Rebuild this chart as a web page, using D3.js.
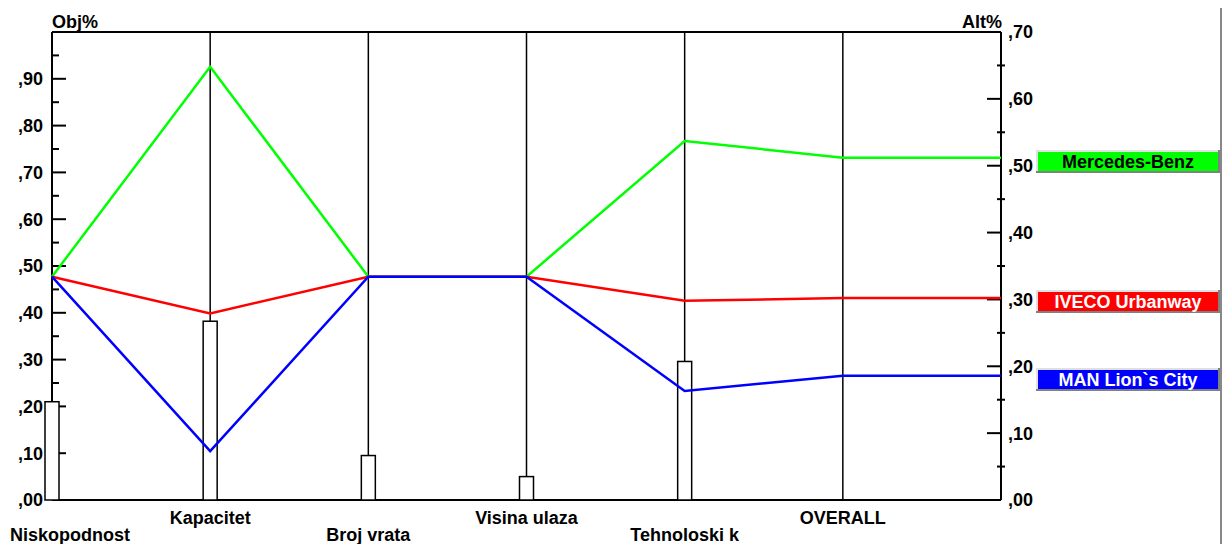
<!DOCTYPE html>
<html>
<head>
<meta charset="utf-8">
<script src="https://cdn.jsdelivr.net/npm/d3@7"></script>
<style>
  body { margin: 0; background: #fff; }
  svg text { font-family: "Liberation Sans", Arial, sans-serif; font-weight: bold; font-size: 18px; fill: #000; }
</style>
</head>
<body>
<svg id="chart" width="1224" height="544"></svg>
<script>
// criteria along the x axis (last one is the total)
const criteria = ["Niskopodnost", "Kapacitet", "Broj vrata", "Visina ulaza", "Tehnoloski k", "OVERALL"];
// criterion weights, read on the left (Obj%) axis
const weights = [0.21, 0.382, 0.095, 0.05, 0.296];
// alternative scores per criterion, read on the right (Alt%) axis
const mercedes = [0.334, 0.648, 0.334, 0.334, 0.537, 0.512];
const iveco    = [0.334, 0.279, 0.334, 0.334, 0.298, 0.302];
const man      = [0.334, 0.073, 0.334, 0.334, 0.163, 0.186];
const seriesNames = ["Mercedes-Benz", "IVECO Urbanway", "MAN Lion`s City"];
const seriesColors = ["#00ff00", "#ff0000", "#0000ff"];
const seriesText = ["#000", "#fff", "#fff"];
const leftTicks = [0, 0.1, 0.2, 0.3, 0.4, 0.5, 0.6, 0.7, 0.8, 0.9];
const rightTicks = [0, 0.1, 0.2, 0.3, 0.4, 0.5, 0.6, 0.7];

const svg = d3.select("#chart");
const pLeft = 52, pRight = 1001, pTop = 32, pBottom = 500;

const x = d3.scaleLinear().domain([0, criteria.length]).range([pLeft, pRight]);
const yL = d3.scaleLinear().domain([0, 1]).range([pBottom, pTop]);
const yR = d3.scaleLinear().domain([0, 0.7]).range([pBottom, pTop]);

const fmt = v => "," + d3.format("02d")(Math.round(v * 100));

// frame: top line, bottom line
svg.append("line").attr("x1", pLeft).attr("x2", pRight).attr("y1", pTop).attr("y2", pTop)
  .attr("stroke", "#000").attr("stroke-width", 2);
svg.append("line").attr("x1", pLeft).attr("x2", pRight).attr("y1", pBottom).attr("y2", pBottom)
  .attr("stroke", "#000").attr("stroke-width", 2);

// vertical criterion lines
svg.selectAll(".crit").data(criteria.slice(1)).enter().append("line")
  .attr("x1", (d, i) => x(i + 1)).attr("x2", (d, i) => x(i + 1))
  .attr("y1", pTop).attr("y2", pBottom)
  .attr("stroke", "#000").attr("stroke-width", 1.5);

// left axis
const lAxis = svg.append("g");
lAxis.append("line").attr("x1", pLeft).attr("x2", pLeft).attr("y1", pTop).attr("y2", pBottom)
  .attr("stroke", "#000").attr("stroke-width", 2);
lAxis.selectAll(".maj").data(leftTicks).enter().append("line")
  .attr("x1", pLeft).attr("x2", pLeft + 14).attr("y1", d => yL(d)).attr("y2", d => yL(d))
  .attr("stroke", "#000").attr("stroke-width", 2);
lAxis.selectAll(".min").data(leftTicks.map(d => d + 0.05)).enter().append("line")
  .attr("x1", pLeft).attr("x2", pLeft + 7).attr("y1", d => yL(d)).attr("y2", d => yL(d))
  .attr("stroke", "#000").attr("stroke-width", 2);
lAxis.selectAll("text").data(leftTicks).enter().append("text")
  .attr("x", 43).attr("y", d => yL(d)).attr("dy", "0.36em")
  .attr("text-anchor", "end").text(fmt);
svg.append("text").attr("x", 52).attr("y", 28).text("Obj%");

// right axis
const rAxis = svg.append("g");
rAxis.append("line").attr("x1", pRight).attr("x2", pRight).attr("y1", pTop).attr("y2", pBottom)
  .attr("stroke", "#000").attr("stroke-width", 2);
rAxis.selectAll(".maj").data(rightTicks).enter().append("line")
  .attr("x1", pRight - 14).attr("x2", pRight).attr("y1", d => yR(d)).attr("y2", d => yR(d))
  .attr("stroke", "#000").attr("stroke-width", 2);
rAxis.selectAll(".min").data(rightTicks.slice(0, -1).map(d => d + 0.05)).enter().append("line")
  .attr("x1", pRight - 4).attr("x2", pRight + 4).attr("y1", d => yR(d)).attr("y2", d => yR(d))
  .attr("stroke", "#000").attr("stroke-width", 2);
rAxis.selectAll("text").data(rightTicks).enter().append("text")
  .attr("x", 1008).attr("y", d => yR(d)).attr("dy", "0.36em").text(fmt);
svg.append("text").attr("x", 1002).attr("y", 28).attr("text-anchor", "end").text("Alt%");

// weight bars
svg.selectAll(".bar").data(weights).enter().append("rect")
  .attr("x", (d, i) => x(i) - 7).attr("width", 14)
  .attr("y", d => yL(d)).attr("height", d => pBottom - yL(d))
  .attr("fill", "#fff").attr("stroke", "#000").attr("stroke-width", 1.5);

// score lines (flat from OVERALL to the right axis)
const series = [mercedes, iveco, man];
const line = d3.line().x((d, i) => x(i)).y(d => yR(d));
svg.selectAll(".series").data(series).enter().append("path")
  .attr("d", d => line(d.concat([d[d.length - 1]])))
  .attr("fill", "none")
  .attr("stroke", (d, i) => seriesColors[i])
  .attr("stroke-width", 2.5);

// category labels, alternating rows
svg.selectAll(".cat").data(criteria).enter().append("text")
  .attr("y", (d, i) => i % 2 === 0 ? 541 : 524)
  .attr("text-anchor", "middle")
  .text(d => d)
  .attr("x", function(d, i) {
    const w = this.getComputedTextLength();
    return Math.max(x(i), 10 + w / 2);
  });

// legend boxes
const legend = svg.selectAll(".leg").data(series).enter().append("g")
  .attr("transform", d => `translate(1036, ${Math.round(yR(d[d.length - 1]) - 8)})`);
legend.append("rect").attr("x", 0).attr("y", 0).attr("width", 184).attr("height", 23).attr("fill", "#808080");
legend.append("rect").attr("x", 0).attr("y", 0).attr("width", 182).attr("height", 21).attr("fill", "#e0e0e0");
legend.append("rect").attr("x", 2).attr("y", 2).attr("width", 180).attr("height", 19)
  .attr("fill", (d, i) => seriesColors[i]);
legend.append("text").attr("x", 92).attr("y", 18).attr("text-anchor", "middle")
  .style("fill", (d, i) => seriesText[i])
  .text((d, i) => seriesNames[i]);

// panel edge
svg.append("line").attr("x1", 1221).attr("x2", 1221).attr("y1", 8).attr("y2", 544)
  .attr("stroke", "#888").attr("stroke-width", 2);
</script>
</body>
</html>
